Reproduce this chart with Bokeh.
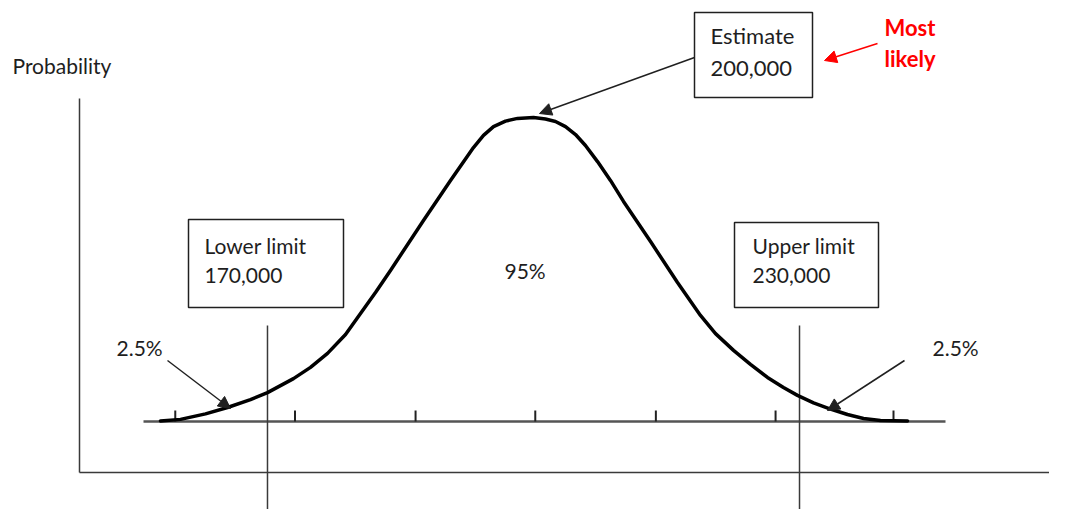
from bokeh.plotting import figure
from bokeh.models import Range1d, Arrow, NormalHead, Label
from bokeh.embed import file_html
from bokeh.resources import INLINE

# ---------------- data (x in thousands, y = density relative to the peak) ----------------
curve_x = [157.93, 160.19, 163.01, 165.49, 168.08, 170.00, 172.93, 174.85, 176.77, 178.80,
           180.49, 182.18, 183.87, 187.59, 190.64, 193.23, 194.36, 195.49, 196.84, 198.20,
           200.00, 201.35, 202.48, 203.61, 204.74, 205.86, 207.22, 208.68, 210.15, 213.20,
           216.24, 218.83, 220.53, 222.56, 224.47, 226.39, 228.19, 229.77, 231.58, 233.49,
           235.41, 237.22, 239.13, 242.18]
curve_y = [0.002, 0.007, 0.025, 0.046, 0.072, 0.095, 0.141, 0.178, 0.224, 0.286,
           0.355, 0.424, 0.497, 0.661, 0.793, 0.901, 0.941, 0.970, 0.988, 0.997,
           1.000, 0.995, 0.987, 0.970, 0.944, 0.908, 0.855, 0.793, 0.724, 0.592,
           0.457, 0.349, 0.289, 0.234, 0.188, 0.145, 0.112, 0.086, 0.061, 0.041,
           0.023, 0.010, 0.003, 0.002]
tick_values = [159.6, 173.1, 186.7, 200.2, 213.8, 227.3, 240.6]
limit_values = [170, 230]
estimate_value = 200

y_label = "Probability"
estimate_text = ["Estimate", "200,000"]
lower_text = ["Lower limit", "170,000"]
upper_text = ["Upper limit", "230,000"]
center_text = "95%"
tail_text = "2.5%"
note_text = ["Most", "likely"]

# ---------------- layout helpers (picture pixel -> data units) ----------------
PX_CENTER, PX_PER_K = 533.0, 8.867
PX_BASE, PX_PER_UNIT = 421.0, 304.0


def X(px):
    return estimate_value + (px - PX_CENTER) / PX_PER_K


def Y(py):
    return (PX_BASE - py) / PX_PER_UNIT


W, H = 1049, 509
p = figure(width=W, height=H, output_backend="svg", toolbar_location=None,
           x_range=Range1d(X(0), X(W)), y_range=Range1d(Y(H), Y(0)),
           min_border=0)
p.axis.visible = False
p.grid.visible = False
p.outline_line_color = None
p.background_fill_color = "white"
p.border_fill_color = "white"

GRAY = "#3a3a3a"
TXT = "#1e1e1e"
FONT = "Lato"
FS = "21px"

# outer axes
p.segment(x0=[X(79), X(79)], y0=[Y(98), Y(472)], x1=[X(79), X(1070)], y1=[Y(472), Y(472)],
          line_color=GRAY, line_width=1.5)

# baseline + ticks
p.segment(x0=[X(143)], y0=[0], x1=[X(945)], y1=[0], line_color="#555555", line_width=2.5)
p.segment(x0=tick_values, x1=tick_values, y0=[0] * len(tick_values), y1=[Y(410)] * len(tick_values),
          line_color="#222222", line_width=2)

# limit lines
p.segment(x0=limit_values, x1=limit_values, y0=[Y(325)] * 2, y1=[Y(540)] * 2,
          line_color=GRAY, line_width=1.5)

# curve
p.line(curve_x, curve_y, line_color="black", line_width=3.5, line_join="round", line_cap="round")

# boxes
boxes = [(694, 12, 812, 97), (188, 219, 343, 307), (734, 222, 878, 307)]
p.quad(left=[X(b[0]) for b in boxes], right=[X(b[2]) for b in boxes],
       top=[Y(b[1]) for b in boxes], bottom=[Y(b[3]) for b in boxes],
       fill_color="white", line_color="#202020", line_width=1.5)


def lab(px, py, text, color=TXT, bold=False, size=FS):
    p.add_layout(Label(x=X(px), y=Y(py), text=text, text_font=FONT, text_font_size=size,
                       text_color=color, text_baseline="middle", text_align="left",
                       text_font_style="bold" if bold else "normal"))


lab(12, 65, y_label)
lab(710, 35, estimate_text[0], size="22px")
lab(710, 68, estimate_text[1], size="22px")
lab(204, 245, lower_text[0])
lab(204, 275, lower_text[1])
lab(752, 245, upper_text[0])
lab(752, 275, upper_text[1])
lab(504, 270, center_text)
lab(116, 347, tail_text)
lab(932, 347, tail_text)
lab(884, 27, note_text[0], color="#ff0000", bold=True, size="22px")
lab(884, 58, note_text[1], color="#ff0000", bold=True, size="22px")


def arrow(x0, y0, x1, y1, color="#202020"):
    p.add_layout(Arrow(end=NormalHead(size=12, fill_color=color, line_color=color),
                       x_start=X(x0), y_start=Y(y0), x_end=X(x1), y_end=Y(y1),
                       line_color=color, line_width=1.5))


arrow(694, 57, 539, 113)
arrow(167, 360, 230, 408)
arrow(904, 360, 827, 410)
arrow(877, 43, 824, 60, color="#ff0000")

open("out.html", "w").write(file_html(p, INLINE))
